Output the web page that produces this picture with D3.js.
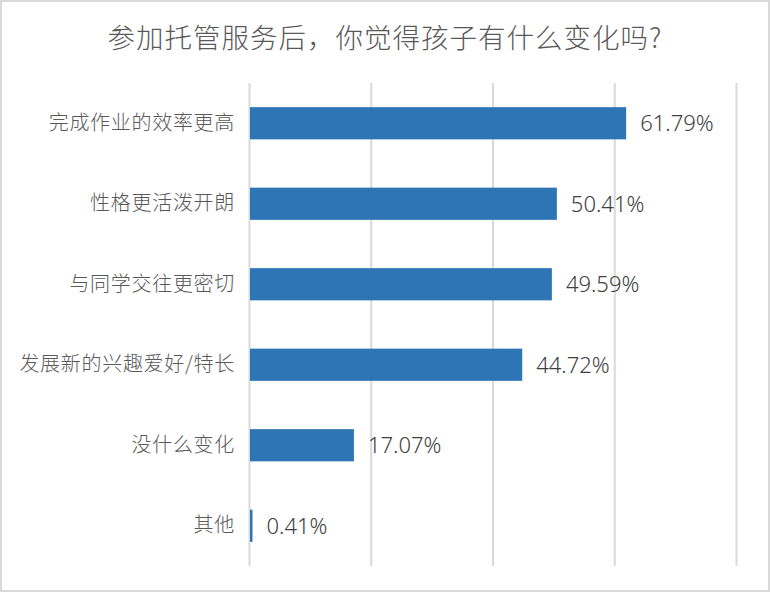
<!DOCTYPE html>
<html>
<head>
<meta charset="utf-8">
<script src="https://cdn.jsdelivr.net/npm/d3@7"></script>
<style>
  html, body { margin: 0; padding: 0; background: #fff; }
  svg { display: block; }
</style>
</head>
<body>
<div id="chart"></div>
<script>
const title = "参加托管服务后，你觉得孩子有什么变化吗?";
const categories = ["完成作业的效率更高", "性格更活泼开朗", "与同学交往更密切", "发展新的兴趣爱好/特长", "没什么变化", "其他"];
const values = [0.6179, 0.5041, 0.4959, 0.4472, 0.1707, 0.0041];
const valueLabels = ["61.79%", "50.41%", "49.59%", "44.72%", "17.07%", "0.41%"];
const gridTicks = [0, 0.2, 0.4, 0.6, 0.8];

const W = 770, H = 592;
const margin = { top: 83, right: 34, bottom: 26, left: 249 };

const svg = d3.select("#chart").append("svg").attr("width", W).attr("height", H);

svg.append("rect").attr("x", 1).attr("y", 1).attr("width", W - 2).attr("height", H - 2)
  .attr("fill", "#fff").attr("stroke", "#d9d9d9").attr("stroke-width", 2);

const x = d3.scaleLinear().domain([0, 0.8]).range([margin.left, W - margin.right]);
const y = d3.scaleBand().domain(categories).range([margin.top, H - margin.bottom]).paddingInner(0.6).paddingOuter(0.3);

svg.append("text").attr("x", W / 2).attr("y", 48).attr("text-anchor", "middle")
  .attr("font-family", "'Noto Sans CJK SC', 'Noto Sans', sans-serif").attr("font-size", 27.5)
  .attr("font-weight", 300).attr("letter-spacing", "1px")
  .attr("fill", "#595959").text(title);

const grid = svg.append("g").attr("transform", `translate(0,${H - margin.bottom})`)
  .call(d3.axisBottom(x).tickValues(gridTicks).tickSize(-(H - margin.bottom - margin.top)).tickFormat(""));
grid.select(".domain").remove();
grid.selectAll(".tick line").attr("stroke", "#d9d9d9").attr("stroke-width", 2);

const yAxis = svg.append("g").attr("transform", `translate(${margin.left},0)`)
  .call(d3.axisLeft(y).tickSize(0).tickPadding(14));
yAxis.select(".domain").remove();
yAxis.selectAll(".tick text").attr("font-family", "'Noto Sans CJK SC', sans-serif")
  .attr("font-size", 20).attr("font-weight", 300).attr("letter-spacing", "0.7px").attr("fill", "#595959");

svg.selectAll(".bar").data(categories).enter().append("rect").attr("class", "bar")
  .attr("x", x(0) + 1).attr("y", d => y(d))
  .attr("width", (d, i) => Math.max(2, x(values[i]) - x(0)))
  .attr("height", y.bandwidth()).attr("fill", "#2e75b6");

svg.selectAll(".val").data(categories).enter().append("text").attr("class", "val")
  .attr("x", (d, i) => x(values[i]) + 15).attr("y", d => y(d) + y.bandwidth() / 2)
  .attr("dy", "0.36em").attr("font-family", "'Noto Sans', sans-serif").attr("font-size", 22)
  .attr("font-weight", 300).attr("fill", "#404040").text((d, i) => valueLabels[i]);
</script>
</body>
</html>
